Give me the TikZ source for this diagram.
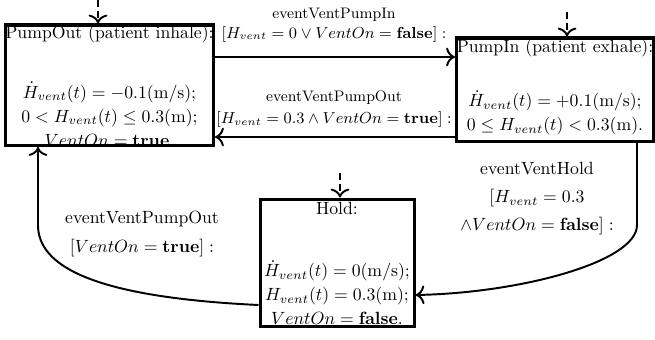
\documentclass[tikz,border=0pt]{standalone}
\usepackage{amsmath}
\usepackage{amssymb}
\usetikzlibrary{calc}
\usetikzlibrary{arrows.meta}
\newcommand{\pxu}{0.565pt}
\tikzset{
 statebox/.style={draw=black, line width=1.7pt, rectangle, inner sep=0},
 boxtext/.style={align=center, inner sep=0, font=\fontsize{10pt}{13.5pt}\selectfont},
 evtext/.style={align=center, inner sep=0},
 trans/.style={black, line width=1.1pt, ->, >={To[scale=1.25]}},
 initarr/.style={black, line width=1.1pt, ->, >={To[scale=1.25]}, dash pattern=on 4pt off 2pt},
}

\begin{document}
\begin{tikzpicture}[x=\pxu, y=-\pxu]
\useasboundingbox (0,0) rectangle (655,339);
% states
\node[statebox, minimum width=208*\pxu, minimum height=120.5*\pxu] (pumpout) at (109.5,85.25) {};
\node[statebox, minimum width=197*\pxu, minimum height=103.5*\pxu] (pumpin) at (555,89.75) {};
\node[statebox, minimum width=154*\pxu, minimum height=127*\pxu] (hold) at (337,262.5) {};
\node[boxtext] (pumpouttitle) at (109.5,34) {PumpOut (patient inhale):};
\node[boxtext] (pumpoutlines) at (109.5,114) {$\dot{H}_{vent}(t)=-0.1(\mathrm{m/s});$\\ $0<H_{vent}(t)\leq 0.3(\mathrm{m});$\\ $VentOn=\mathbf{true}.$};
\node[boxtext] (pumpintitle) at (555,48) {PumpIn (patient exhale):};
\node[boxtext] (pumpinlines) at (555,112.5) {$\dot{H}_{vent}(t)=+0.1(\mathrm{m/s});$\\ $0\leq H_{vent}(t)<0.3(\mathrm{m}).$};
\node[boxtext] (holdtitle) at (337,208) {Hold:};
\node[boxtext] (holdlines) at (337,292.5) {$\dot{H}_{vent}(t)=0(\mathrm{m/s});$\\ $H_{vent}(t)=0.3(\mathrm{m});$\\ $VentOn=\mathbf{false}.$};
% initial
\coordinate (pumpoutinit) at (98,0);
\coordinate (pumpininit) at (567,12);
\coordinate (holdinit) at (340,173);
\draw[initarr] (pumpoutinit) -- (pumpoutinit |- pumpout.north);
\draw[initarr] (pumpininit) -- (pumpininit |- pumpin.north);
\draw[initarr] (holdinit) -- (holdinit |- hold.north);
% transitions
\draw[trans] (pumpout.east |- 0,57) -- (pumpin.west |- 0,57);
\draw[trans] (pumpin.west |- 0,137) -- (pumpout.east |- 0,137);
\draw[trans] (pumpin.south -| 637,0) -- (637,225) .. controls (637,262) and (520,293) .. (hold.east |- 0,295);
\draw[trans] (hold.west |- 0,305) .. controls (90,297) and (38,265) .. (38,225) -- (38,0 |- pumpout.south);
\node[evtext, font=\fontsize{8.6pt}{11.3pt}\selectfont] (lblpumpin) at (334,25) {eventVentPumpIn\\ $[H_{vent}=0\vee VentOn=\mathbf{false}]:$};
\node[evtext, font=\fontsize{8.6pt}{12.4pt}\selectfont] (lblpumpout) at (334,109) {eventVentPumpOut\\ $[H_{vent}=0.3\wedge VentOn=\mathbf{true}]:$};
\node[evtext, font=\fontsize{10pt}{16pt}\selectfont] (lblhold) at (537,198.5) {eventVentHold\\ $[H_{vent}=0.3$\\ $\wedge VentOn=\mathbf{false}]:$};
\node[evtext, font=\fontsize{10pt}{16pt}\selectfont] (lblback) at (142,234) {eventVentPumpOut\\ $[VentOn=\mathbf{true}]:$};
\end{tikzpicture}
\end{document}
